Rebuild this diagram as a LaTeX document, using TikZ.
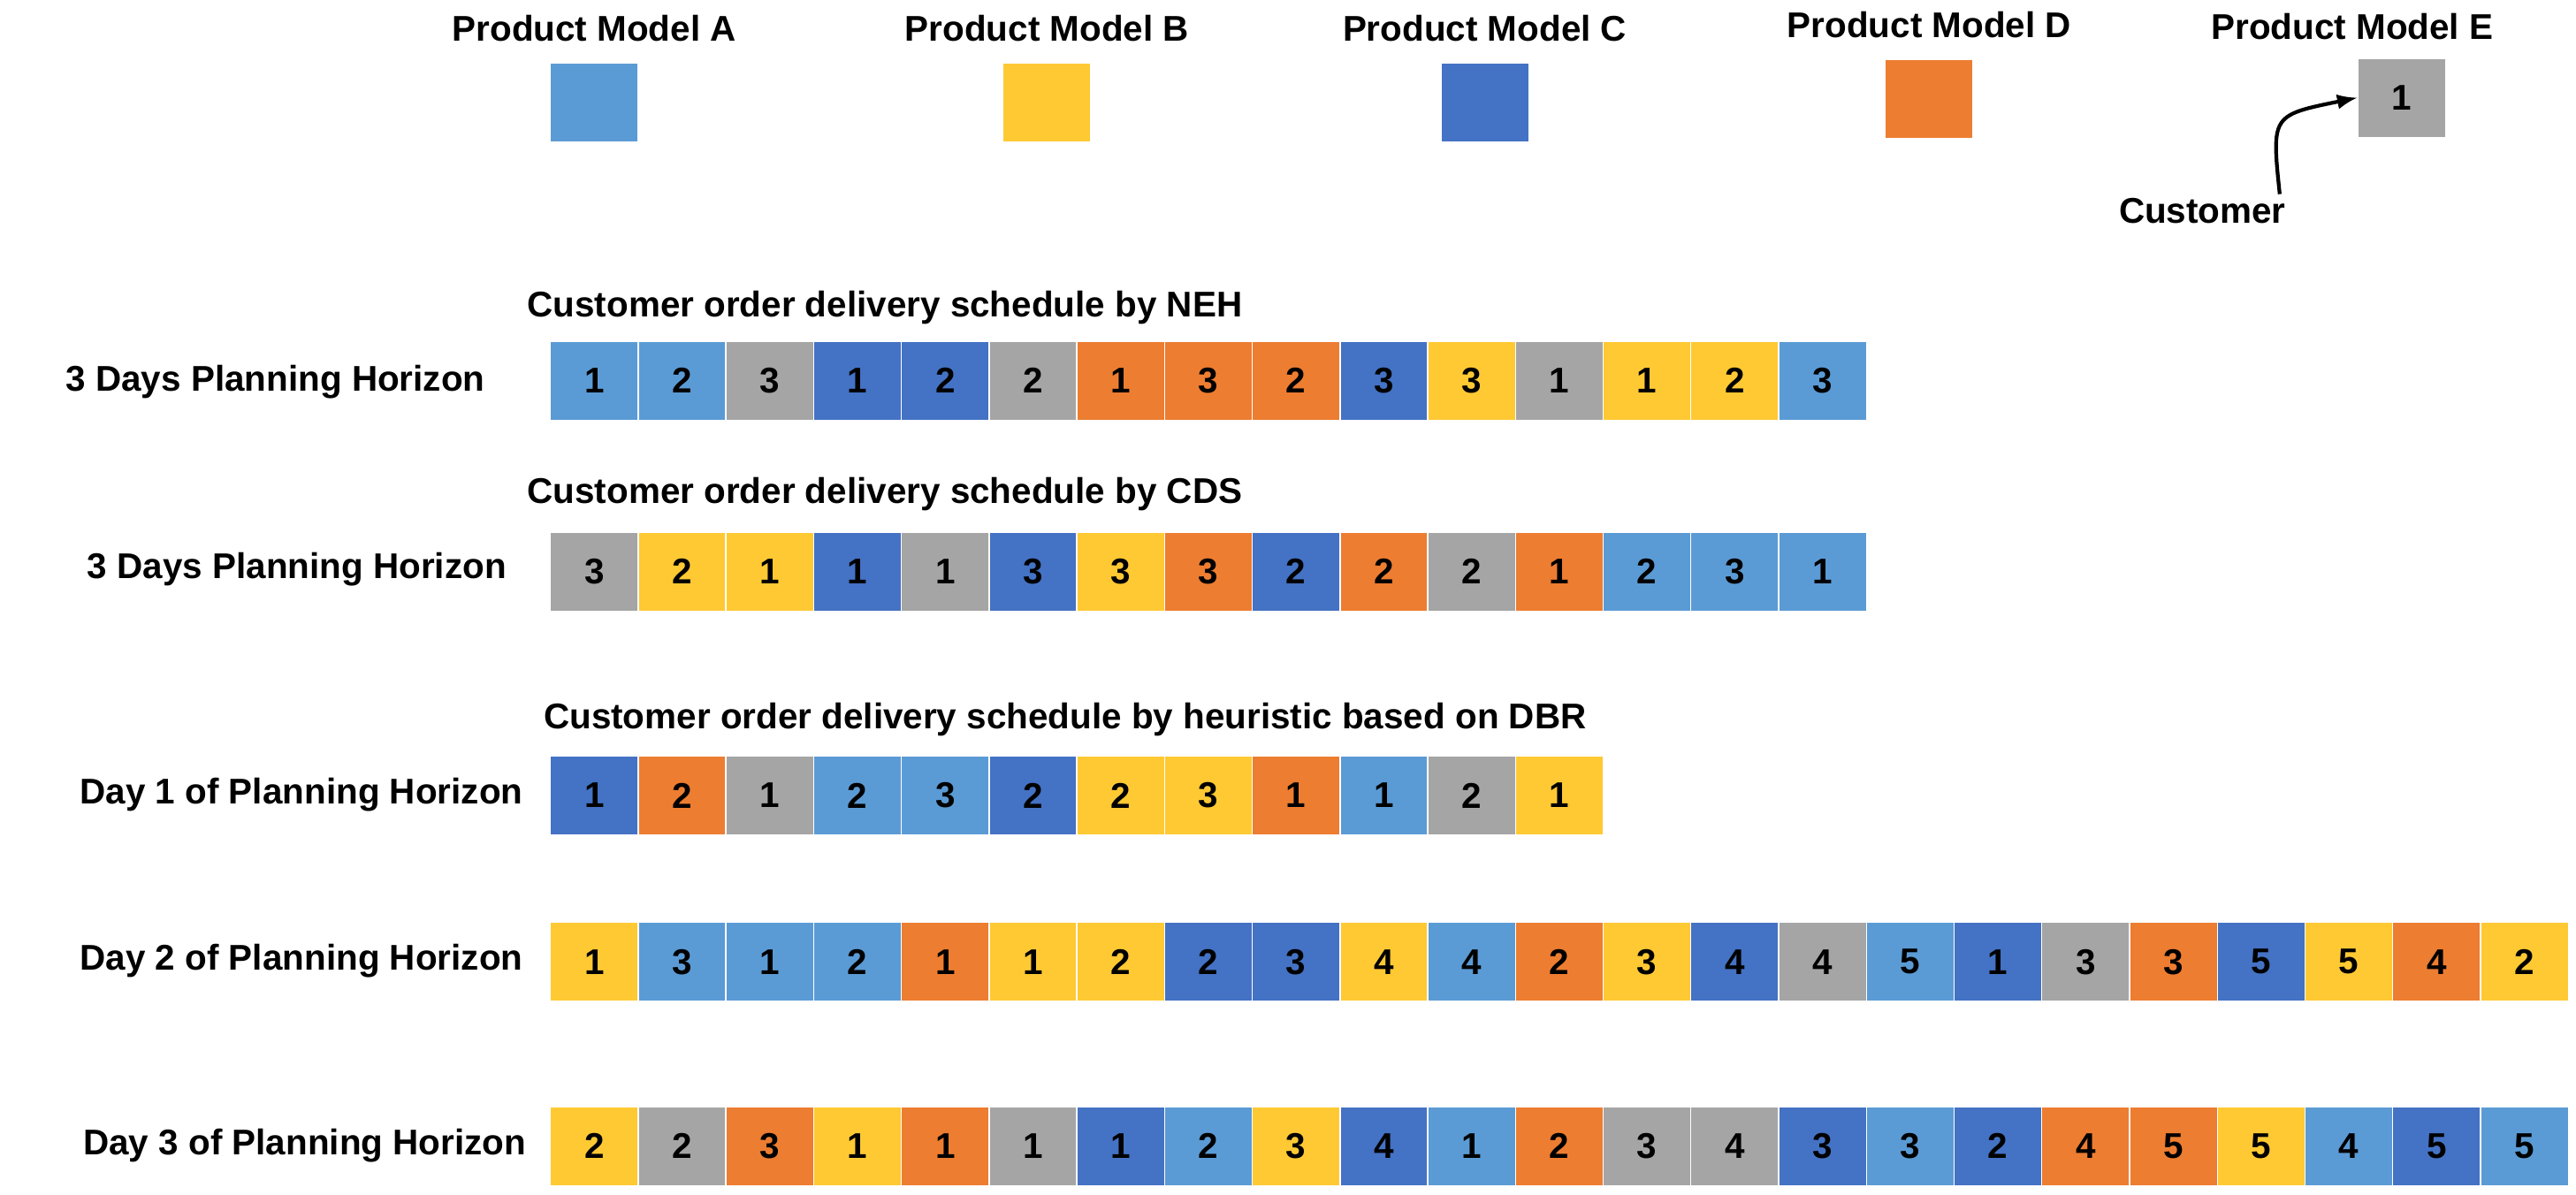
\documentclass[tikz,border=0pt]{standalone}
\usepackage{fontspec}
\setmainfont{Liberation Sans}
\usetikzlibrary{positioning,calc}
\definecolor{colA}{HTML}{5B9BD5}
\definecolor{colB}{HTML}{FFC933}
\definecolor{colC}{HTML}{4472C4}
\definecolor{colD}{HTML}{ED7D31}
\definecolor{colE}{HTML}{A5A5A5}
\tikzset{
  cell/.style={draw=white, line width=0.4pt, anchor=north west, inner sep=0pt,
    minimum width=0.993cm, minimum height=0.894cm, font=\fontsize{11.5}{13}\selectfont\bfseries},
  lbl/.style={font=\fontsize{11.5}{13}\selectfont\bfseries, inner sep=0pt},
}
% one row of the schedule: name, top y, list of model/number
\newcommand{\schedrow}[3]{%
  \foreach \c/\n [count=\i] in {#3}
    \node[cell, fill=col\c] (#1-\i) at ({334+53.3*(\i-1)},#2) {\n};
}
\begin{document}
\begin{tikzpicture}[x=0.01862cm, y=-0.01862cm]
	\useasboundingbox (0,0) rectangle (1565,726);
	% legend
	\foreach \c/\x/\y in {A/334/38, B/609/38, C/875/38, D/1145/36} {
		\node[cell, fill=col\c] (leg\c) at (\x,\y) {};
		\node[lbl] at ($(leg\c.north)+(0,-21)$) {Product Model \c};
	}
	\node[cell, fill=colE] (legE) at (1432,35) {1};
	\node[lbl] at ($(legE.north)+(-30,-19)$) {Product Model E};
	\node[lbl] (cust) at (1338,128) {Customer};
	\draw[-latex, line width=1.2pt] ($(cust.north)+(47,-2)$) .. controls (1380,70) .. (legE.west);

	% schedule by NEH
	\node[lbl, anchor=west] at (320,187) {Customer order delivery schedule by NEH};
	\node[lbl, anchor=east] at (295,232) {3 Days Planning Horizon};
	\schedrow{neh}{207}{A/1,A/2,E/3,C/1,C/2,E/2,D/1,D/3,D/2,C/3,B/3,E/1,B/1,B/2,A/3}

	% schedule by CDS
	\node[lbl, anchor=west] at (320,300) {Customer order delivery schedule by CDS};
	\node[lbl, anchor=east] at (308,346) {3 Days Planning Horizon};
	\schedrow{cds}{323}{E/3,B/2,B/1,C/1,E/1,C/3,B/3,D/3,C/2,D/2,E/2,D/1,A/2,A/3,A/1}

	% schedule by heuristic
	\node[lbl, anchor=west] at (330,437) {Customer order delivery schedule by heuristic based on DBR};
	\node[lbl, anchor=east] at (318,483) {Day 1 of Planning Horizon};
	\schedrow{dayone}{459}{C/1,D/2,E/1,A/2,A/3,C/2,B/2,B/3,D/1,A/1,E/2,B/1}
	\node[lbl, anchor=east] at (318,584) {Day 2 of Planning Horizon};
	\schedrow{daytwo}{560}{B/1,A/3,A/1,A/2,D/1,B/1,B/2,C/2,C/3,B/4,A/4,D/2,B/3,C/4,E/4,A/5,C/1,E/3,D/3,C/5,B/5,D/4,B/2}
	\node[lbl, anchor=east] at (320,696) {Day 3 of Planning Horizon};
	\schedrow{daythree}{672}{B/2,E/2,D/3,B/1,D/1,E/1,C/1,A/2,B/3,C/4,A/1,D/2,E/3,E/4,C/3,A/3,C/2,D/4,D/5,B/5,A/4,C/5,A/5}
\end{tikzpicture}
\end{document}
